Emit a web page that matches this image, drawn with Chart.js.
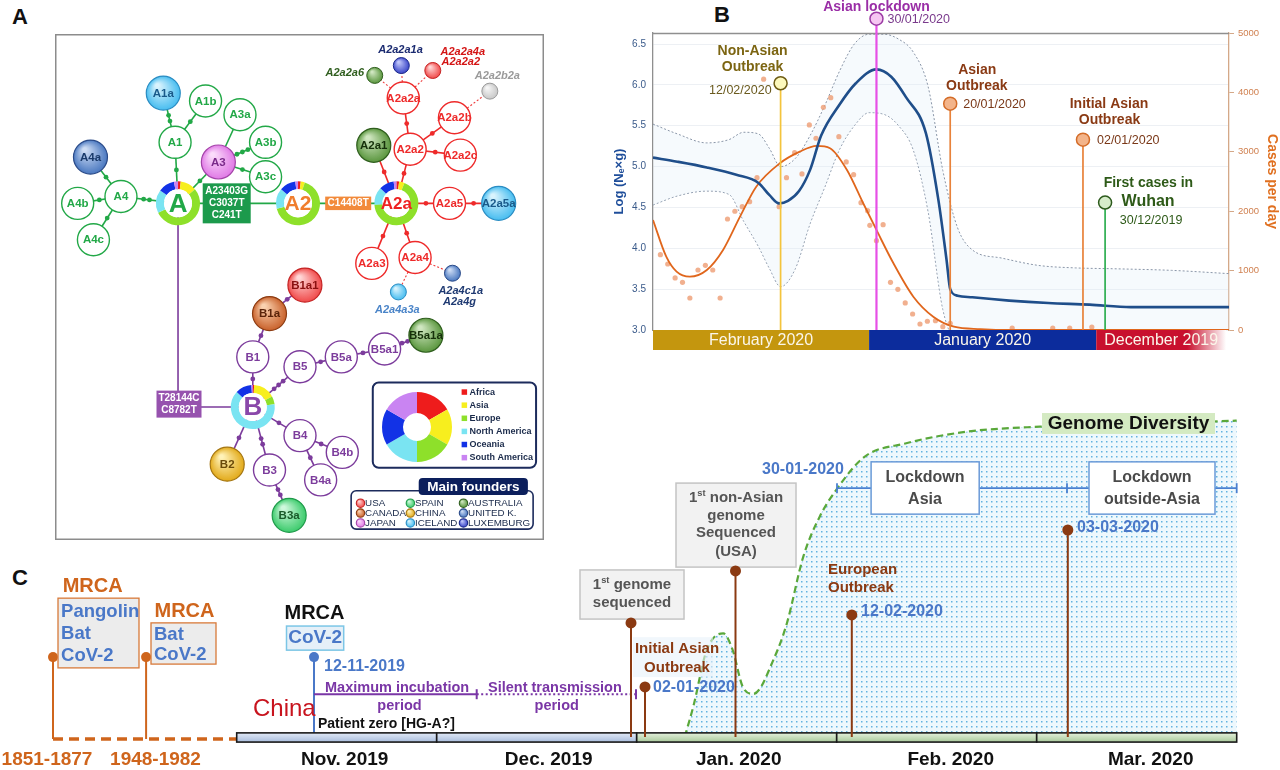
<!DOCTYPE html>
<html>
<head>
<meta charset="utf-8">
<title>SARS-CoV-2 founders, Ne and timeline</title>
<script src="https://cdn.jsdelivr.net/npm/chart.js@4.4.1/dist/chart.umd.min.js"></script>
<style>
  html, body { margin: 0; padding: 0; background: #fff; }
  body { position: relative; width: 1280px; height: 770px; overflow: hidden; font-family: "Liberation Sans", Arial, sans-serif; }
  canvas { position: absolute; }
  .panel { position: absolute; font-weight: bold; font-size: 22px; line-height: 1; color: #111; }
</style>
</head>
<body>
<div class="panel" style="left:12px;top:6px">A</div>
<div class="panel" style="left:714px;top:4px">B</div>
<div class="panel" style="left:12px;top:567px">C</div>
<canvas id="chartA" width="489" height="506" style="left:55px;top:34px"></canvas>
<canvas id="donut" width="70" height="70" style="left:382px;top:392px"></canvas>
<canvas id="chartB" width="680" height="360" style="left:600px;top:0"></canvas>
<canvas id="chartC" width="1280" height="370" style="left:0;top:400px"></canvas>
<script>
const FONT = '"Liberation Sans", Arial, sans-serif';
Chart.defaults.font.family = FONT;

// ---------- panel A : founder network (layout units) ----------
const nodeNames = ['A','A1','A1a','A1b','A3','A3a','A3b','A3c','A4','A4a','A4b','A4c','A2','A2a',
  'A2a1','A2a2','A2a2a','A2a2b','A2a2c','A2a5','A2a5a','A2a3','A2a4',
  'A2a2a6','A2a2a1a','A2a2a4a','A2a2b2a','A2a4a3a','A2a4c1a',
  'B','B1','B1a','B1a1','B5','B5a','B5a1','B5a1a','B2','B3','B3a','B4','B4a','B4b'];
const nodeX = [121,118,106,149,162,184,210,210,63,32,19,35,243,343,
  320,357,350,402,408,397,447,318,362,
  321,348,380,438,345,400,
  197,197,214,250,245,287,331,373,171,214,234,245,266,288];
const nodeY = [168,106,56,64,126,78,106,141,161,121,168,205,168,168,
  109,113,61,81,119,168,168,229,223,
  38,28,33,54,258,239,
  375,324,280,251,334,324,316,302,433,439,485,404,449,421];
const nodeTier = ['hub','open','founder','open','founder','open','open','open','open','founder','open','open','hub','hub',
  'founder','open','open','open','open','open','founder','open','open',
  'minor','minor','minor','minor','minor','minor',
  'hub','open','founder','founder','open','open','open','founder','founder','open','founder','open','open','open'];
const nodeClade = ['A','A','A','A','A','A','A','A','A','A','A','A','A','A',
  'A2a','A2a','A2a','A2a','A2a','A2a','A2a','A2a','A2a',
  'A2a','A2a','A2a','A2a','A2a','A2a',
  'B','B','B','B','B','B','B','B','B','B','B','B','B','B'];
const nodeFounder = [null,null,'ICELAND',null,'JAPAN',null,null,null,null,'UK',null,null,null,null,
  'AUSTRALIA',null,null,null,null,null,'ICELAND',null,null,
  'AUSTRALIA','LUXEMBURG','USA','OTHER','ICELAND','UK',
  null,null,'CANADA','USA',null,null,null,'AUSTRALIA','CHINA',null,'SPAIN',null,null,null];
// [from, to, mutations]
const links = [['A','A1',1],['A1','A1a',2],['A1','A1b',1],['A','A3',1],['A3','A3a',0],['A3','A3b',3],['A3','A3c',1],
  ['A','A4',2],['A4','A4a',1],['A4','A4b',1],['A4','A4c',1],['A','A2',0],['A2','A2a',0],
  ['A2a','A2a1',1],['A2a','A2a2',1],['A2a2','A2a2a',1],['A2a2','A2a2b',1],['A2a2','A2a2c',1],['A2a','A2a5',1],
  ['A2a5','A2a5a',1],['A2a','A2a3',1],['A2a','A2a4',1],
  ['A','B',0],['B','B1',1],['B1','B1a',1],['B1a','B1a1',1],['B','B5',3],['B5','B5a',1],['B5a','B5a1',1],
  ['B5a1','B5a1a',2],['B','B2',1],['B','B3',2],['B3','B3a',2],['B','B4',1],['B4','B4a',1],['B4','B4b',1]];
const minorLinks = [['A2a2a','A2a2a6'],['A2a2a','A2a2a1a'],['A2a2a','A2a2a4a'],['A2a2b','A2a2b2a'],['A2a4','A2a4a3a'],['A2a4','A2a4c1a']];
const trunkBend = [121, 375];
const hubNames = ['A','A2','A2a','B'];
const hubShares = [[2,12,54,17,12,3],[2,3,66,15,12,2],[2,4,68,13,11,2],[1,16,6,64,12,1]];
const mutBoxText = [['A23403G','C3037T','C241T'],['C14408T'],['T28144C','C8782T']];
const mutBoxAt = [[170.5,168],[294,168],[122,372]];
const minorTags = {A2a2a6:['A2a2a6'], A2a2a1a:['A2a2a1a'], A2a2a4a:['A2a2a4a','A2a2a2'], A2a2b2a:['A2a2b2a'], A2a4a3a:['A2a4a3a'], A2a4c1a:['A2a4c1a','A2a4g']};
const continents = ['Africa','Asia','Europe','North America','Oceania','South America'];
const continentShare = [1,1,1,1,1,1];
const founderKeys = ['USA','CANADA','JAPAN','SPAIN','CHINA','ICELAND','AUSTRALIA','UK','LUXEMBURG'];
const founderLabels = ['USA','CANADA','JAPAN','SPAIN','CHINA','ICELAND','AUSTRALIA','UNITED K.','LUXEMBURG'];

// ---------- panel B : Ne x g and cases per day (x = days after 1 Dec 2019) ----------
const neDays = [90.3,87,83,79,76,74.5,73.2,72,70.5,69,67.5,65,62.8,60,58,56,53.3,51.6,50.5,50,49,47,42,36.7,31.1,25.5,12.2];
const neMean = [5.11,5.06,4.99,4.90,4.80,4.65,4.55,4.58,4.70,4.96,5.38,5.76,6.02,6.19,6.10,5.85,5.41,4.59,3.86,3.50,3.42,3.40,3.36,3.33,3.31,3.28,3.28];
const ciDays = [90.3,87,83,80,78,76,74.5,73,71,69,67,65,63,61,59,57,55,53,51,49,47,43,38,33,28,20,12.2];
const ciUpper = [5.52,5.40,5.29,5.33,5.42,5.40,5.22,5.00,5.10,5.38,5.75,6.17,6.50,6.62,6.62,6.56,6.40,5.98,4.95,4.25,3.98,3.88,3.79,3.76,3.75,3.73,3.69];
const ciLower = [4.53,4.64,4.70,4.66,4.33,4.02,3.75,3.53,3.75,4.30,4.75,5.21,5.50,5.66,5.64,5.50,5.20,4.45,3.25,2.80,2.60,2.50,2.50,2.50,2.50,2.50,2.50];
const fitDays = [90.3,88.5,87.1,85.3,83.0,80.8,78.5,76.3,73.1,70.4,68.1,66.3,64.0,61.8,60.0,57.7,55.0,52.3,49.5,45.9,41.8,12.2];
const fitCases = [1852,1234,982,898,1010,1347,1908,2413,2807,3003,3099,3060,2694,2134,1684,1123,561,224,56,15,0,0];
const caseDays = [89.3,88.3,87.3,86.3,85.3,84.2,83.2,82.2,81.2,80.2,79.2,78.2,77.2,76.2,75.3,73.2,72.2,71.1,70.1,69.1,68.2,67.2,66.2,65.1,64.1,63.1,62.1,61.2,60.9,60.0,59.1,58.1,57.1,56.1,55.1,54.1,53.1,52.0,51.0,50.0,41.6,36.1,33.8,30.8];
const caseCounts = [1268,1111,876,803,539,1010,1089,1010,539,1869,1999,2077,2161,2565,4222,2077,2565,2986,2627,3452,3228,3750,3912,3255,2829,2615,2144,2009,1763,1504,1773,803,685,455,269,101,147,157,56,113,34,34,34,50];
const leftTicks = [3.0,3.5,4.0,4.5,5.0,5.5,6.0,6.5];
const bandNames = ['February 2020','January 2020','December 2019'];
const bandFrom = [90.3,61.0,30.2];
const bandTo = [61.0,30.2,12.6];
const eventNames = [['Non-Asian','Outbreak'],['Asian lockdown'],['Asian','Outbreak'],['Initial Asian','Outbreak'],['First cases in','Wuhan']];
const eventDates = ['12/02/2020','30/01/2020','20/01/2020','02/01/2020','30/12/2019'];
const eventDays = [73,60,50,32,29];
const eventLevels = [6.02,6.81,5.77,5.33,4.56];

// ---------- panel C : timeline (x = months after 1 Nov 2019) ----------
const monthNames = ['Nov. 2019','Dec. 2019','Jan. 2020','Feb. 2020','Mar. 2020'];
const diversityX = [2.24,2.283,2.35,2.433,2.48,2.53,2.583,2.69,2.751,2.833,2.915,2.997,3.139,3.343,3.649,4.017,4.872,5.0];
const diversityY = [0,9.6,27.4,32.7,27.4,15.9,13.6,25.3,35.9,56.9,69.5,77.9,88.4,92.6,96.3,97.9,99.5,99.8];
const mrcaX = [-0.9185,-0.453,0.3865];
const mrcaYears = ['1851-1877','1948-1982'];
const stepX = [1.9715,2.0415,2.494,3.0755,4.1555];
const stepY = [36.0,15.8,52.4,38.5,65.3];
const lockdownTicks = [3.0015,4.1515,5.0];

// ---------- helpers ----------
function say(ctx, s, x, y, font, color, align, base) {
  ctx.font = font; ctx.fillStyle = color;
  ctx.textAlign = align || 'center'; ctx.textBaseline = base || 'middle';
  ctx.fillText(s, x, y);
}
function roundRect(ctx, x, y, w, h, r) {
  ctx.beginPath();
  ctx.moveTo(x + r, y); ctx.arcTo(x + w, y, x + w, y + h, r); ctx.arcTo(x + w, y + h, x, y + h, r);
  ctx.arcTo(x, y + h, x, y, r); ctx.arcTo(x, y, x + w, y, r); ctx.closePath();
}
function ball(ctx, cx, cy, r, pal, lw) {
  const g = ctx.createRadialGradient(cx - r * 0.35, cy - r * 0.45, r * 0.1, cx, cy, r);
  g.addColorStop(0, pal[0]); g.addColorStop(1, pal[1]);
  ctx.beginPath(); ctx.arc(cx, cy, r, 0, Math.PI * 2);
  ctx.fillStyle = g; ctx.fill();
  ctx.lineWidth = lw; ctx.strokeStyle = pal[2]; ctx.stroke();
}
function ordinal(ctx, rest, cx, cy, size, color) {
  ctx.font = `bold ${size}px ${FONT}`;
  const w1 = ctx.measureText('1').width, wr = ctx.measureText(rest).width;
  ctx.font = `bold ${size * 0.62}px ${FONT}`;
  const ws = ctx.measureText('st').width;
  const left = cx - (w1 + ws + wr) / 2;
  say(ctx, '1', left, cy, `bold ${size}px ${FONT}`, color, 'left');
  say(ctx, 'st', left + w1, cy - size * 0.32, `bold ${size * 0.62}px ${FONT}`, color, 'left');
  say(ctx, rest, left + w1 + ws, cy, `bold ${size}px ${FONT}`, color, 'left');
}

// ---------- panel A ----------
const cladeInk = { A: '#22a847', A2a: '#ee2a2a', B: '#7c3c9c' };
const hubInk = { A: '#22a847', A2: '#f07e2e', A2a: '#ee2222', B: '#8a48aa' };
const hubFont = { A: 26, A2: 21, A2a: 17, B: 26 };
const tierRadius = { hub: 22, founder: 17, open: 16, minor: 8 };
const ringInk = ['#ee1c1c', '#f7ee1e', '#8ee02a', '#7ae4f2', '#1232e6', '#c984f2'];
const founderPalette = {
  USA: ['#ffd6d6', '#f04a4a', '#c42424', '#8a1010'],
  CANADA: ['#fad2b0', '#c9622c', '#8c3c12', '#5a240a'],
  JAPAN: ['#fbdcfb', '#e07ae6', '#a344a8', '#7a2a8a'],
  SPAIN: ['#cff8dc', '#3ccb6c', '#1f9a4a', '#1a5a2a'],
  CHINA: ['#fff2b8', '#e2aa1a', '#a47612', '#6a4a0a'],
  ICELAND: ['#d9f3fd', '#47bdf0', '#2a8cc2', '#1a5a8a'],
  AUSTRALIA: ['#cfe6c0', '#5a963e', '#2f5e1e', '#16300a'],
  UK: ['#cddcf4', '#4a78c0', '#2a4a88', '#1a3a6a'],
  LUXEMBURG: ['#c0c6fa', '#3a46c8', '#1a2888', '#1a2060'],
  OTHER: ['#f6f6f6', '#c8c8c8', '#9a9a9a', '#666666']
};
const boxSize = [[48, 40], [46, 13.5], [45, 27]];
const boxInk = ['#1c9a4c', '#f28a3a', '#9652ae'];
const minorTagLook = {
  A2a2a6: ['#2f5e1e', [[-10.7, -2.4]], 'right'],
  A2a2a1a: ['#1a2a70', [[-0.8, -15.7]], 'center'],
  A2a2a4a: ['#d41414', [[30, -19], [28, -9]], 'center'],
  A2a2b2a: ['#9a9a9a', [[7.5, -15]], 'center'],
  A2a4a3a: ['#4a84c8', [[-1, 17.6]], 'center'],
  A2a4c1a: ['#1f3a72', [[8.3, 17.7], [7, 28.4]], 'center']
};

const idx = {};
nodeNames.forEach((n, i) => { idx[n] = i; });
const rad = i => tierRadius[nodeTier[i]];

const linkSets = links.map(([f, t]) => {
  const a = idx[f], b = idx[t];
  const pts = [{ x: nodeX[a], y: nodeY[a] }];
  if (f === 'A' && t === 'B') pts.push({ x: trunkBend[0], y: trunkBend[1] });
  pts.push({ x: nodeX[b], y: nodeY[b] });
  return { data: pts, showLine: true, borderColor: cladeInk[nodeClade[b]], borderWidth: 1.6, pointRadius: 0, order: 3 };
});
const minorSets = minorLinks.map(([f, t]) => ({
  data: [{ x: nodeX[idx[f]], y: nodeY[idx[f]] }, { x: nodeX[idx[t]], y: nodeY[idx[t]] }],
  showLine: true, borderColor: '#ee3a3a', borderWidth: 1.1, borderDash: [2, 2], pointRadius: 0, order: 3
}));
const mutPts = [], mutInk = [];
links.forEach(([f, t, n]) => {
  if (!n) return;
  const a = idx[f], b = idx[t];
  const dx = nodeX[b] - nodeX[a], dy = nodeY[b] - nodeY[a], L = Math.hypot(dx, dy);
  const mid = (rad(a) + L - rad(b)) / 2;
  for (let k = 0; k < n; k++) {
    const s = (mid + (k - (n - 1) / 2) * 6) / L;
    mutPts.push({ x: nodeX[a] + dx * s, y: nodeY[a] + dy * s });
    mutInk.push(cladeInk[nodeClade[b]]);
  }
});

const networkPlugin = {
  id: 'network',
  beforeDraw(chart) {
    const ctx = chart.ctx;
    ctx.save();
    ctx.strokeStyle = '#8c8c8c'; ctx.lineWidth = 1.5;
    ctx.strokeRect(0.75, 0.75, chart.width - 1.5, chart.height - 1.5);
    ctx.restore();
  },
  afterDatasetsDraw(chart) {
    const { ctx, scales: { x, y } } = chart;
    const X = v => x.getPixelForValue(v), Y = v => y.getPixelForValue(v);
    ctx.save();
    // mutation boxes
    mutBoxText.forEach((lines, i) => {
      const [w, h] = boxSize[i], cx = X(mutBoxAt[i][0]), cy = Y(mutBoxAt[i][1]);
      ctx.fillStyle = boxInk[i]; ctx.fillRect(cx - w / 2, cy - h / 2, w, h);
      lines.forEach((s, k) => say(ctx, s, cx, cy + (k - (lines.length - 1) / 2) * 12.3, `bold 10px ${FONT}`, '#ffffff'));
    });
    // nodes
    nodeNames.forEach((name, i) => {
      const cx = X(nodeX[i]), cy = Y(nodeY[i]), r = rad(i), tier = nodeTier[i];
      if (tier === 'hub') {
        const sh = hubShares[hubNames.indexOf(name)], tot = sh.reduce((p, q) => p + q, 0);
        let a0 = -Math.PI / 2;
        sh.forEach((s, k) => {
          const a1 = a0 + s / tot * Math.PI * 2;
          ctx.beginPath(); ctx.arc(cx, cy, r, a0, a1); ctx.arc(cx, cy, 14, a1, a0, true); ctx.closePath();
          ctx.fillStyle = ringInk[k]; ctx.fill();
          a0 = a1;
        });
        ctx.beginPath(); ctx.arc(cx, cy, 14, 0, Math.PI * 2); ctx.fillStyle = '#fff'; ctx.fill();
        say(ctx, name, cx, cy + 1, `bold ${hubFont[name]}px ${FONT}`, hubInk[name]);
      } else if (tier === 'open') {
        ctx.beginPath(); ctx.arc(cx, cy, r, 0, Math.PI * 2);
        ctx.fillStyle = '#fff'; ctx.fill();
        ctx.lineWidth = 1.4; ctx.strokeStyle = cladeInk[nodeClade[i]]; ctx.stroke();
        say(ctx, name, cx, cy + 0.5, `bold 11.5px ${FONT}`, cladeInk[nodeClade[i]]);
      } else {
        const pal = founderPalette[nodeFounder[i]];
        ball(ctx, cx, cy, r, pal, tier === 'minor' ? 1 : 1.2);
        if (tier === 'founder') say(ctx, name, cx, cy + 0.5, `bold 11.5px ${FONT}`, pal[3]);
      }
    });
    // labels of minor founders
    Object.keys(minorTags).forEach(name => {
      const i = idx[name], look = minorTagLook[name];
      minorTags[name].forEach((s, k) => say(ctx, s, X(nodeX[i]) + look[1][k][0], Y(nodeY[i]) + look[1][k][1],
        `italic bold 11px ${FONT}`, look[0], look[2]));
    });
    // continent legend box
    ctx.lineWidth = 2; ctx.strokeStyle = '#1c2b5c';
    roundRect(ctx, X(319), Y(350), X(485) - X(319), Y(436.7) - Y(350), 6); ctx.stroke();
    continents.forEach((c, k) => {
      const yy = Y(360 + k * 13.33);
      ctx.fillStyle = ringInk[k]; ctx.fillRect(X(409.3), yy - 3, 5.5, 5.5);
      say(ctx, c, X(417.3), yy, `bold 9px ${FONT}`, '#1a2a4a', 'left');
    });
    // main founders box
    ctx.lineWidth = 1.6; ctx.strokeStyle = '#1c2b5c';
    roundRect(ctx, X(297), Y(460), X(482) - X(297), Y(499) - Y(460), 5); ctx.stroke();
    ctx.fillStyle = '#0c1f5c';
    roundRect(ctx, X(365.7), Y(447), X(476.7) - X(365.7), Y(464.3) - Y(447), 4); ctx.fill();
    say(ctx, 'Main founders', X(421.2), Y(456), `bold 13.5px ${FONT}`, '#ffffff');
    founderKeys.forEach((f, k) => {
      const col = Math.floor(k / 3), row = k % 3;
      const cx = X([306.5, 357.2, 411.2][col]), cy = Y(472.7 + row * 10);
      ball(ctx, cx, cy, 4.2, founderPalette[f], 1.1);
      say(ctx, founderLabels[k], cx + 4.6, cy + 0.5, `9.8px ${FONT}`, '#1a2a4a', 'left');
    });
    ctx.restore();
  }
};

new Chart(document.getElementById('chartA'), {
  type: 'scatter',
  data: { datasets: [...linkSets, ...minorSets,
    { data: mutPts, pointRadius: 2.4, pointBackgroundColor: mutInk, pointBorderWidth: 0, showLine: false, order: 1 }] },
  options: {
    responsive: false, animation: false, events: [],
    layout: { padding: 0 },
    plugins: { legend: { display: false }, tooltip: { enabled: false } },
    scales: {
      x: { type: 'linear', min: 0, max: 489, display: false },
      y: { type: 'linear', min: 0, max: 506, reverse: true, display: false }
    }
  },
  plugins: [networkPlugin]
});

new Chart(document.getElementById('donut'), {
  type: 'doughnut',
  data: { labels: continents, datasets: [{ data: continentShare, backgroundColor: ringInk, borderWidth: 0 }] },
  options: {
    responsive: false, animation: false, events: [], cutout: '40%',
    layout: { padding: 0 },
    plugins: { legend: { display: false }, tooltip: { enabled: false } }
  }
});

// ---------- panel B ----------
const bandInk = ['#c4960e', '#0c2c9c', '#c8102e'];
const eventLook = [
  { line: '#f4c43c', fill: '#fcf8bc', stroke: '#6e5c14', text: '#7c6512', date: '#6a5a1e', title: [[-28, -32.6], [-28, -16]], dateAt: [-9, 7.7], align: 'right' },
  { line: '#e64fe6', fill: '#f6c6f2', stroke: '#9c3ca4', text: '#9a2ea6', date: '#7a3a8c', title: [[0, -12]], dateAt: [11, 0.7], align: 'left' },
  { line: '#e8823a', fill: '#f3b48a', stroke: '#d46c28', text: '#8a3a14', date: '#7a3818', title: [[27, -34], [26.6, -17.3]], dateAt: [13, 1], align: 'left' },
  { line: '#e8823a', fill: '#f3b48a', stroke: '#d46c28', text: '#8a3a14', date: '#7a3818', title: [[26, -35.7], [26.5, -19]], dateAt: [14, 1], align: 'left' },
  { line: '#2fae52', fill: '#d6ecca', stroke: '#2c5a1c', text: '#2e5a18', date: '#2e5a18', title: [[43.3, -19], [43, -1.3]], dateAt: [46, 17.7], align: 'center' }
];

const bPlugin = {
  id: 'bNotes',
  afterDatasetsDraw(chart) {
    const { ctx, chartArea: ca, scales: { x, y } } = chart;
    ctx.save();
    ctx.strokeStyle = '#8f8f8f'; ctx.lineWidth = 1.3;
    ctx.beginPath(); ctx.moveTo(ca.left, ca.top + 0.5); ctx.lineTo(ca.right, ca.top + 0.5); ctx.stroke();
    bandNames.forEach((name, i) => {
      const l = x.getPixelForValue(bandFrom[i]), r = x.getPixelForValue(bandTo[i]);
      let fill = bandInk[i];
      if (i === 2) {
        const g = ctx.createLinearGradient(l, 0, r, 0);
        g.addColorStop(0, bandInk[i]); g.addColorStop(0.7, bandInk[i]); g.addColorStop(1, '#ffffff');
        fill = g;
      }
      ctx.fillStyle = fill; ctx.fillRect(l, ca.bottom, r - l, 20);
      say(ctx, name, (l + r) / 2, ca.bottom + 10.5, `16px ${FONT}`, '#fbf6ea');
    });
    eventDays.forEach((d, i) => {
      const ex = x.getPixelForValue(d), ey = y.getPixelForValue(eventLevels[i]), st = eventLook[i];
      ctx.strokeStyle = st.line; ctx.lineWidth = i === 1 ? 2.2 : 1.7;
      ctx.beginPath(); ctx.moveTo(ex, ca.bottom); ctx.lineTo(ex, ey + 6.5); ctx.stroke();
      ctx.beginPath(); ctx.arc(ex, ey, 6.5, 0, Math.PI * 2);
      ctx.fillStyle = st.fill; ctx.fill(); ctx.lineWidth = 1.5; ctx.strokeStyle = st.stroke; ctx.stroke();
      eventNames[i].forEach((s, k) => say(ctx, s, ex + st.title[k][0], ey + st.title[k][1],
        `bold ${(i === 4 && k === 1) ? 16 : 14}px ${FONT}`, st.text));
      say(ctx, eventDates[i], ex + st.dateAt[0], ey + st.dateAt[1], `12.5px ${FONT}`, st.date, st.align);
    });
    ctx.restore();
  }
};

new Chart(document.getElementById('chartB'), {
  type: 'line',
  data: {
    datasets: [
      { data: ciDays.map((d, i) => ({ x: d, y: ciUpper[i] })), yAxisID: 'y', borderColor: '#8a96a8', borderWidth: 1,
        borderDash: [2, 2], pointRadius: 0, fill: '+1', backgroundColor: 'rgba(226,238,249,0.3)', cubicInterpolationMode: 'monotone', order: 5 },
      { data: ciDays.map((d, i) => ({ x: d, y: ciLower[i] })), yAxisID: 'y', borderColor: '#8a96a8', borderWidth: 1,
        borderDash: [2, 2], pointRadius: 0, fill: false, cubicInterpolationMode: 'monotone', order: 5 },
      { data: neDays.map((d, i) => ({ x: d, y: neMean[i] })), yAxisID: 'y', borderColor: '#1f4e8a', borderWidth: 2.6,
        pointRadius: 0, fill: false, cubicInterpolationMode: 'monotone', order: 2 },
      { data: fitDays.map((d, i) => ({ x: d, y: fitCases[i] })), yAxisID: 'y1', borderColor: '#e0661c', borderWidth: 1.8,
        pointRadius: 0, fill: false, cubicInterpolationMode: 'monotone', order: 3 },
      { data: caseDays.map((d, i) => ({ x: d, y: caseCounts[i] })), yAxisID: 'y1', showLine: false, pointRadius: 2.6,
        pointBackgroundColor: 'rgba(236,150,105,0.75)', pointBorderWidth: 0, order: 4 }
    ]
  },
  options: {
    responsive: false, animation: false, events: [],
    layout: { padding: { top: 33, bottom: 30, left: 0, right: 0 } },
    plugins: { legend: { display: false }, tooltip: { enabled: false } },
    scales: {
      x: { type: 'linear', min: 12.2, max: 90.3, reverse: true, display: false },
      y: {
        position: 'left', min: 3, max: 6.635,
        afterBuildTicks: s => { s.ticks = leftTicks.map(v => ({ value: v })); },
        afterFit: s => { s.width = 53; },
        ticks: { color: '#3a5a8a', font: { size: 10 }, padding: 7, callback: v => Number(v).toFixed(1) },
        grid: { color: '#edf0f4', drawTicks: false },
        border: { color: '#8f8f8f', width: 1.3 },
        title: { display: true, text: 'Log (Nₑ×g)', color: '#1f4e9a', font: { size: 13, weight: 'bold' }, padding: { top: 12, bottom: 0 } }
      },
      y1: {
        position: 'right', min: 0, max: 5000,
        afterFit: s => { s.width = 51; },
        ticks: { stepSize: 1000, color: '#d08050', font: { size: 9.5 }, padding: 4, callback: v => String(v) },
        grid: { drawOnChartArea: false, color: '#d4a888', tickLength: 5 },
        border: { color: '#d4a888', width: 1.3 },
        title: { display: true, text: 'Cases per day', color: '#e07020', font: { size: 14, weight: 'bold' }, padding: { top: 0, bottom: 4 } }
      }
    }
  },
  plugins: [bPlugin]
});

// ---------- panel C ----------
const patCanvas = document.createElement('canvas');
patCanvas.width = 5; patCanvas.height = 5;
const pc = patCanvas.getContext('2d');
pc.fillStyle = '#eef8fd'; pc.fillRect(0, 0, 5, 5);
pc.fillStyle = '#63b2e0'; pc.fillRect(1, 1, 1.5, 1.5);
const dotPattern = document.getElementById('chartC').getContext('2d').createPattern(patCanvas, 'repeat');

const cPlugin = {
  id: 'cNotes',
  afterDatasetsDraw(chart) {
    const { ctx, scales: { x, y } } = chart;
    const X = v => x.getPixelForValue(v), Y = v => y.getPixelForValue(v);
    const B = s => `bold ${s}px ${FONT}`;
    const orange = '#cf651c', blue = '#4a78c8', brown = '#8b3a12', purple = '#7a36a6', grey = '#555555';
    const rect = (m0, v0, m1, v1, fill, stroke, lw) => {
      const l = X(m0), t = Y(v0), w = X(m1) - l, h = Y(v1) - t;
      if (fill) { ctx.fillStyle = fill; ctx.fillRect(l, t, w, h); }
      if (stroke) { ctx.lineWidth = lw; ctx.strokeStyle = stroke; ctx.strokeRect(l, t, w, h); }
    };
    const stem = (m, top, col, r) => {
      ctx.strokeStyle = col; ctx.lineWidth = 2;
      ctx.beginPath(); ctx.moveTo(X(m), Y(0)); ctx.lineTo(X(m), Y(top)); ctx.stroke();
      ctx.beginPath(); ctx.arc(X(m), Y(top), r, 0, Math.PI * 2); ctx.fillStyle = col; ctx.fill();
    };
    ctx.save();

    // ancestral MRCAs
    ctx.strokeStyle = orange; ctx.lineWidth = 3.5; ctx.setLineDash([10, 6]);
    ctx.beginPath(); ctx.moveTo(X(mrcaX[0]), Y(-0.63)); ctx.lineTo(X(0), Y(-0.63)); ctx.stroke();
    ctx.setLineDash([]);
    [0, 1].forEach(i => {
      ctx.strokeStyle = orange; ctx.lineWidth = 2;
      ctx.beginPath(); ctx.moveTo(X(mrcaX[i]), Y(-0.63)); ctx.lineTo(X(mrcaX[i]), Y(25.2)); ctx.stroke();
      ctx.beginPath(); ctx.arc(X(mrcaX[i]), Y(25.2), 5, 0, Math.PI * 2); ctx.fillStyle = orange; ctx.fill();
      say(ctx, mrcaYears[i], X([-0.9485, -0.406][i]), Y(-7.26), B(19), orange);
    });
    rect(-0.8935, 43.8, -0.4885, 21.8, '#ececec', '#d87a3a', 1.3);
    say(ctx, 'MRCA', X(-0.72), Y(47.6), B(20), orange);
    ['Pangolin', 'Bat', 'CoV-2'].forEach((s, k) => say(ctx, s, X(-0.878), Y([39.4, 32.5, 25.6][k]), B(18.5), blue, 'left'));
    rect(-0.4285, 36.0, -0.1035, 23.0, '#ececec', '#d87a3a', 1.3);
    say(ctx, 'MRCA', X(-0.261), Y(39.7), B(20), orange);
    ['Bat', 'CoV-2'].forEach((s, k) => say(ctx, s, X(-0.4135), Y([32.2, 25.9][k]), B(18.5), blue, 'left'));

    // SARS-CoV-2 MRCA
    say(ctx, 'MRCA', X(0.389), Y(39.1), B(20), '#111111');
    rect(0.249, 35.0, 0.535, 27.4, '#e6f0f8', '#7cc6e6', 1.5);
    say(ctx, 'CoV-2', X(0.392), Y(31.2), B(19), blue);
    stem(mrcaX[2], 25.2, blue, 5);
    say(ctx, '12-11-2019', X(0.4365), Y(22.1), B(16), blue, 'left');
    ctx.strokeStyle = purple; ctx.lineWidth = 2;
    ctx.beginPath(); ctx.moveTo(X(mrcaX[2]), Y(13.5)); ctx.lineTo(X(1.2), Y(13.5)); ctx.stroke();
    ctx.setLineDash([2, 2.5]);
    ctx.beginPath(); ctx.moveTo(X(1.2), Y(13.5)); ctx.lineTo(X(1.9965), Y(13.5)); ctx.stroke();
    ctx.setLineDash([]);
    [1.2, 1.9965].forEach(m => { ctx.beginPath(); ctx.moveTo(X(m), Y(13.5) - 5); ctx.lineTo(X(m), Y(13.5) + 5); ctx.stroke(); });
    say(ctx, 'Maximum incubation', X(0.4415), Y(15.6), B(14.5), purple, 'left');
    say(ctx, 'period', X(0.814), Y(9.8), B(14.5), purple);
    say(ctx, 'Silent transmission', X(1.2565), Y(15.6), B(14.5), purple, 'left');
    say(ctx, 'period', X(1.60), Y(9.8), B(14.5), purple);
    say(ctx, 'China', X(0.0815), Y(8.8), `24px ${FONT}`, '#c8141e', 'left');
    say(ctx, 'Patient zero [HG-A?]', X(0.4065), Y(4.1), B(14), '#111111', 'left');

    // month bar
    monthNames.forEach((name, i) => {
      const l = X(i), r = X(i + 1), t = Y(1.3), b = Y(-1.6);
      const g = ctx.createLinearGradient(0, t, 0, b);
      if (i < 2) { g.addColorStop(0, '#e2eaf7'); g.addColorStop(1, '#a9bddd'); }
      else { g.addColorStop(0, '#e4f0dc'); g.addColorStop(1, '#a9c99b'); }
      ctx.fillStyle = g; ctx.fillRect(l, t, r - l, b - t);
      ctx.lineWidth = 1.6; ctx.strokeStyle = '#1a1a1a'; ctx.strokeRect(l, t, r - l, b - t);
      say(ctx, name, X([0.54, 1.56, 2.51, 3.57, 4.57][i]), Y(-7.26), B(19), '#111111');
    });

    // milestone boxes and stems
    rect(1.7165, 52.7, 2.2365, 37.2, '#f2f2f2', '#c4c4c4', 1.5);
    ordinal(ctx, ' genome', X(1.9765), Y(47.9), 15, grey);
    say(ctx, 'sequenced', X(1.9765), Y(42.3), B(15), grey);
    rect(1.9815, 31.5, 2.3815, 18.9, 'rgba(232,242,250,0.6)', null, 0);
    say(ctx, 'Initial Asian', X(2.2015), Y(27.8), B(15), brown);
    say(ctx, 'Outbreak', X(2.2015), Y(21.8), B(15), brown);
    say(ctx, '02-01-2020', X(2.0815), Y(15.5), B(16), blue, 'left');
    rect(2.1965, 80.1, 2.7965, 53.6, '#f2f2f2', '#c4c4c4', 1.5);
    ordinal(ctx, ' non-Asian', X(2.4965), Y(75.4), 15, grey);
    ['genome', 'Sequenced', '(USA)'].forEach((s, k) => say(ctx, s, X(2.4965), Y([69.7, 64.4, 58.4][k]), B(15), grey));
    say(ctx, 'European', X(2.9565), Y(52.7), B(15), brown, 'left');
    say(ctx, 'Outbreak', X(2.9565), Y(47.0), B(15), brown, 'left');
    say(ctx, '12-02-2020', X(3.1215), Y(39.7), B(16), blue, 'left');
    say(ctx, '03-03-2020', X(4.2015), Y(66.2), B(16), blue, 'left');
    stepX.forEach((m, i) => stem(m, stepY[i], brown, 5.5));

    // lockdowns
    ctx.strokeStyle = '#4a80d0'; ctx.lineWidth = 1.8;
    ctx.beginPath(); ctx.moveTo(X(lockdownTicks[0]), Y(78.5)); ctx.lineTo(X(lockdownTicks[2]), Y(78.5)); ctx.stroke();
    lockdownTicks.forEach(m => { ctx.beginPath(); ctx.moveTo(X(m), Y(78.5) - 5); ctx.lineTo(X(m), Y(78.5) + 5); ctx.stroke(); });
    rect(3.172, 86.8, 3.7125, 70.3, '#ffffff', '#6a9ad8', 1.5);
    say(ctx, 'Lockdown', X(3.4415), Y(81.7), B(16), '#4a4a4a');
    say(ctx, 'Asia', X(3.4415), Y(74.8), B(16), '#4a4a4a');
    rect(4.2615, 86.8, 4.8915, 70.3, '#ffffff', '#6a9ad8', 1.5);
    say(ctx, 'Lockdown', X(4.5765), Y(81.7), B(16), '#4a4a4a');
    say(ctx, 'outside-Asia', X(4.5765), Y(74.8), B(16), '#4a4a4a');
    say(ctx, '30-01-2020', X(2.6265), Y(84.2), B(16), blue, 'left');
    rect(4.0265, 102.2, 4.8915, 95.6, '#d4eac2', null, 0);
    say(ctx, 'Genome Diversity', X(4.459), Y(98.9), B(19), '#111111');
    ctx.restore();
  }
};

new Chart(document.getElementById('chartC'), {
  type: 'line',
  data: {
    datasets: [{
      data: diversityX.map((m, i) => ({ x: m, y: diversityY[i] })),
      borderColor: '#5aa83a', borderWidth: 2.2, borderDash: [7, 4], pointRadius: 0,
      fill: 'origin', backgroundColor: dotPattern, cubicInterpolationMode: 'monotone'
    }]
  },
  options: {
    responsive: false, animation: false, events: [],
    layout: { padding: 0 },
    plugins: { legend: { display: false }, tooltip: { enabled: false } },
    scales: {
      x: { type: 'linear', min: -1.1835, max: 5.2165, display: false },
      y: { type: 'linear', min: -10.41, max: 106.31, display: false }
    }
  },
  plugins: [cPlugin]
});
</script>
</body>
</html>
